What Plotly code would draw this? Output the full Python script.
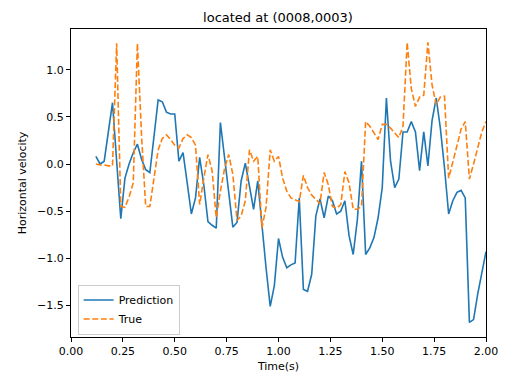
import plotly.graph_objects as go

time_s = [round(0.12 + 0.02 * i, 2) for i in range(95)]

prediction = [
    0.08, 0.00, 0.03, 0.35, 0.65, 0.03, -0.58, -0.15, 0.00, 0.12,
    0.21, 0.05, -0.06, -0.09, 0.30, 0.68, 0.66, 0.55, 0.53, 0.53,
    0.03, 0.12, -0.20, -0.53, -0.36, 0.07, -0.22, -0.61, -0.65, -0.68,
    0.44, 0.07, -0.30, -0.67, -0.62, -0.18, 0.01, -0.25, -0.48, -0.18,
    -0.68, -1.10, -1.51, -1.29, -0.79, -0.99, -1.10, -1.07, -1.05, -0.36,
    -1.33, -1.35, -1.17, -0.55, -0.37, -0.57, -0.34, -0.39, -0.53, -0.50,
    -0.39, -0.76, -0.96, -0.59, 0.03, -0.96, -0.89, -0.78, -0.57, -0.25,
    0.70, 0.03, -0.25, -0.16, 0.34, 0.34, 0.45, 0.34, -0.07, 0.34,
    -0.02, 0.46, 0.70, 0.38, -0.04, -0.53, -0.39, -0.30, -0.28, -0.36,
    -1.68, -1.65, -1.38, -1.17, -0.93,
]

true_vals = [
    0.00, -0.01, -0.01, -0.02, -0.02, 1.28, -0.45, -0.46, -0.35, -0.20,
    1.28, 0.30, -0.45, -0.45, -0.15, 0.15, 0.27, 0.31, 0.26, 0.20,
    0.17, 0.27, 0.31, 0.28, 0.20, -0.43, -0.15, 0.10, -0.07, -0.57,
    -0.29, -0.05, 0.10, -0.11, -0.60, -0.55, -0.39, 0.15, 0.03, 0.08,
    -0.68, -0.46, 0.15, 0.03, 0.08, -0.15, -0.29, -0.36, -0.38, -0.40,
    -0.12, -0.25, -0.33, -0.38, -0.42, -0.09, -0.22, -0.45, -0.47, -0.43,
    -0.08, -0.20, -0.48, -0.48, -0.45, 0.45, 0.40, 0.33, 0.26, 0.42,
    0.42, 0.38, 0.33, 0.28, 0.40, 1.29, 0.80, 0.61, 0.71, 0.73,
    1.29, 0.84, 0.63, 0.71, 0.72, -0.15, 0.02, 0.20, 0.37, 0.45,
    -0.16, 0.00, 0.16, 0.34, 0.45,
]

x_ticks = [0.0, 0.25, 0.5, 0.75, 1.0, 1.25, 1.5, 1.75, 2.0]
x_tick_text = ["0.00", "0.25", "0.50", "0.75", "1.00", "1.25", "1.50", "1.75", "2.00"]
y_ticks = [-1.5, -1.0, -0.5, 0.0, 0.5, 1.0]
y_tick_text = ["\u22121.5", "\u22121.0", "\u22120.5", "0.0", "0.5", "1.0"]

FONT = "DejaVu Sans"

fig = go.Figure()
fig.add_trace(go.Scatter(
    x=time_s, y=prediction, mode="lines", name="Prediction",
    line=dict(color="#1f77b4", width=1.6),
))
fig.add_trace(go.Scatter(
    x=time_s, y=true_vals, mode="lines", name="True",
    line=dict(color="#ff7f0e", width=1.6, dash="6px,2.6px"),
))

axis_common = dict(
    showline=True, mirror=True, linecolor="black", linewidth=1,
    showgrid=False, zeroline=False, ticks="outside", ticklen=4,
    tickwidth=1, tickcolor="black", automargin=False,
    tickfont=dict(family=FONT, size=11, color="black"),
)

fig.update_layout(
    width=505, height=376,
    margin=dict(l=71, r=19, t=29, b=39),
    paper_bgcolor="white", plot_bgcolor="white",
    font=dict(family=FONT, size=11, color="black"),
    title=dict(text="located at (0008,0003)", x=0.5505, xanchor="center",
               y=0.953, yanchor="middle", font=dict(family=FONT, size=13, color="black")),
    xaxis=dict(range=[0, 2.0], tickvals=x_ticks, ticktext=x_tick_text,
               title=dict(text="Time(s)", font=dict(family=FONT, size=11), standoff=5),
               **axis_common),
    yaxis=dict(range=[-1.835, 1.432], tickvals=y_ticks, ticktext=y_tick_text,
               title=dict(text="Horizontal velocity", font=dict(family=FONT, size=11), standoff=8),
               **axis_common),
    legend=dict(x=0.016, y=0.008, xanchor="left", yanchor="bottom",
                bgcolor="rgba(255,255,255,0.8)", bordercolor="#cccccc", borderwidth=1,
                font=dict(family=FONT, size=11), itemwidth=30, tracegroupgap=0),
    showlegend=True,
)

fig.write_html("out.html")
